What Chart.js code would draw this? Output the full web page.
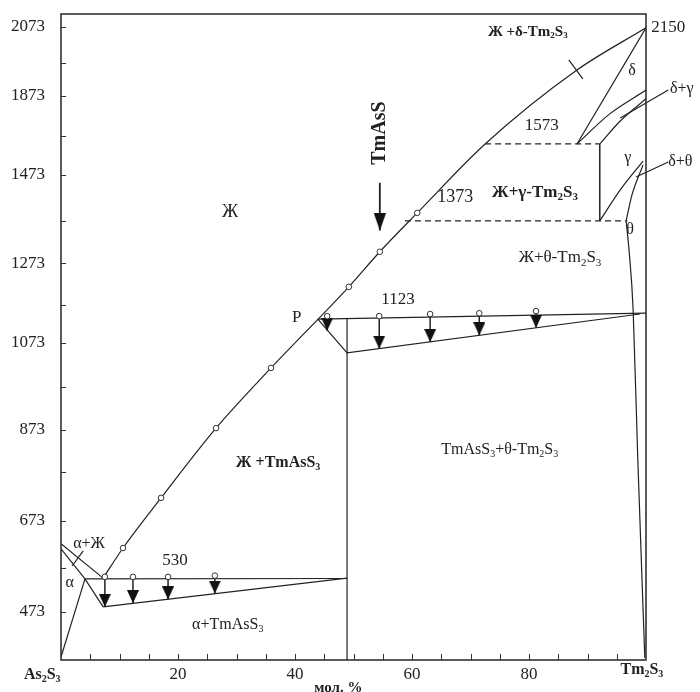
<!DOCTYPE html>
<html>
<head>
<meta charset="utf-8">
<script src="https://cdn.jsdelivr.net/npm/chart.js@4.4.0/dist/chart.umd.min.js"></script>
<style>
  html, body { margin: 0; padding: 0; background: #fff; }
  canvas { display: block; }
</style>
</head>
<body>
<canvas id="myChart" width="700" height="692"></canvas>
<script>
// ejes: x = mol. % Tm2S3, y = temperatura (escala nominal del dibujo, las marcas
// del original no estan igualmente espaciadas)
const xTickValues = [20, 40, 60, 80];
const xTickLabels = ["20", "40", "60", "80"];
const xTickMarks = [5, 10, 15, 20, 25, 30, 35, 40, 45, 50, 55, 60, 65, 70, 75, 80, 85, 90, 95];
const yTickValues = [473, 691, 909, 1117, 1308, 1519, 1708, 1873];
const yTickLabels = ["473", "673", "873", "1073", "1273", "1473", "1873", "2073"];
const yMinorMarks = [578, 808, 1011, 1208, 1409, 1612, 1787];

// lineas del diagrama [x, y]
const liquidus = [[7.2, 554], [10.6, 626], [17.1, 746], [26.5, 913], [35.9, 1057], [49.2, 1251], [54.5, 1335], [60.9, 1428], [72.5, 1593], [88.2, 1770], [100, 1871]];
const liquidusDots = [[10.6, 626], [17.1, 746], [26.5, 913], [35.9, 1057], [49.2, 1251], [54.5, 1335], [60.9, 1428]];
const peritecticLine = [[43.9, 1174], [100, 1188]];
const peritecticLower = [[43.9, 1174], [48.9, 1093], [99.0, 1186]];
const compoundLine = [[48.9, 1175], [48.9, 358]];
const eutecticLine = [[4.1, 552], [48.9, 553]];
const eutecticLower = [[7.2, 485], [48.9, 554]];
const alphaSolvus = [[0, 365], [4.1, 552]];
const alphaSolidus = [[0, 624], [4.1, 552], [7.2, 485]];
const alphaLiquidus = [[0, 636], [7.2, 554]];
const deltaLine = [[100, 1871], [88.2, 1593]];
const iso1573 = [[72.5, 1593], [92.1, 1593]];
const gammaEdge = [[92.1, 1593], [92.1, 1409]];
const iso1373 = [[58.8, 1409], [96.8, 1409]];
const deltaGamma1 = [[88.2, 1593], [93.8, 1665], [100, 1722]];
const deltaGamma2 = [[92.1, 1593], [95.6, 1648], [100, 1701]];
const gammaTheta1 = [[92.1, 1409], [95.6, 1483], [99.5, 1552]];
const gammaTheta2 = [[96.6, 1409], [97.6, 1471], [99.5, 1543]];
const thetaLine = [[96.6, 1409], [97.1, 1339], [97.8, 1196], [98.6, 837], [99.8, 363]];
const leaderDG = [[95.6, 1655], [103.8, 1722]];
const leaderDT = [[98.3, 1514], [103.8, 1550]];
const leaderAL = [[3.8, 619], [1.9, 583]];
const xMark = [[86.8, 1794], [89.2, 1749]];
const tmAsSArrow = [[54.5, 1500], [54.5, 1386]];

// efectos termicos (flechas)
const arrowX1123 = [45.5, 54.4, 63.1, 71.5, 81.2];
const arrowTop1123 = [1181, 1181, 1186, 1188, 1193];
const arrowTip1123 = [1146, 1103, 1119, 1135, 1153];
const arrowX530 = [7.5, 12.3, 18.3, 26.3];
const arrowTop530 = [557, 557, 557, 560];
const arrowTip530 = [485, 494, 503, 517];

// textos del diagrama
const notes = [
  { t: "Ж", x: 28.9, y: 1430, size: 18 },
  { t: "Ж +δ-Tm_2S_3", x: 79.8, y: 1861, size: 15, bold: true },
  { t: "2150", x: 100.9, y: 1871, size: 17, align: "left" },
  { t: "δ", x: 97.6, y: 1768, size: 16 },
  { t: "δ+γ", x: 104.1, y: 1725, size: 16, align: "left" },
  { t: "1573", x: 82.2, y: 1638, size: 17 },
  { t: "γ", x: 96.9, y: 1559, size: 16 },
  { t: "δ+θ", x: 103.8, y: 1550, size: 16, align: "left" },
  { t: "Ж+γ-Tm_2S_3", x: 81, y: 1476, size: 17, bold: true },
  { t: "1373", x: 67.4, y: 1466, size: 18 },
  { t: "θ", x: 97.3, y: 1387, size: 16 },
  { t: "Ж+θ-Tm_2S_3", x: 85.3, y: 1320, size: 17 },
  { t: "1123", x: 57.6, y: 1220, size: 17 },
  { t: "P", x: 40.3, y: 1177, size: 17 },
  { t: "Ж +TmAsS_3", x: 37.1, y: 830, size: 16, bold: true },
  { t: "TmAsS_3+θ-Tm_2S_3", x: 75, y: 861, size: 16 },
  { t: "530", x: 19.5, y: 597, size: 17 },
  { t: "α+Ж", x: 4.8, y: 636, size: 16 },
  { t: "α", x: 1.5, y: 542, size: 16 },
  { t: "α+TmAsS_3", x: 28.5, y: 442, size: 16 },
];

const FONT = '"Liberation Serif", "Times New Roman", serif';
const INK = "#222";

function pts(arr) {
  return arr.map((p) => ({ x: p[0], y: p[1] }));
}

function lineDs(arr, extra) {
  return Object.assign(
    {
      data: pts(arr),
      showLine: true,
      pointRadius: 0,
      borderColor: INK,
      borderWidth: 1.2,
      fill: false,
      order: 3,
    },
    extra || {}
  );
}

const curve = { cubicInterpolationMode: "monotone" };

function makeHead(w, h) {
  const c = document.createElement("canvas");
  c.width = w;
  c.height = h * 2;
  const g = c.getContext("2d");
  g.fillStyle = "#111";
  g.beginPath();
  g.moveTo(0, 0);
  g.lineTo(w, 0);
  g.lineTo(w / 2, h);
  g.closePath();
  g.fill();
  return c;
}
const smallHead = makeHead(12, 13);
const bigHead = makeHead(12, 17);

// texto con subindices: "Tm_2S_3"
function drawRich(ctx, str, x, y, size, bold, align) {
  const w = bold ? "bold " : "";
  const main = w + size + "px " + FONT;
  const small = w + Math.round(size * 0.62) + "px " + FONT;
  const parts = [];
  str.split(/(_\w)/).forEach((s) => {
    if (!s) return;
    if (s[0] === "_") parts.push({ t: s.slice(1), sub: true });
    else parts.push({ t: s, sub: false });
  });
  let total = 0;
  parts.forEach((p) => {
    ctx.font = p.sub ? small : main;
    p.w = ctx.measureText(p.t).width;
    total += p.w;
  });
  let cx = align === "left" ? x : x - total / 2;
  ctx.textBaseline = "middle";
  ctx.textAlign = "left";
  parts.forEach((p) => {
    ctx.font = p.sub ? small : main;
    ctx.fillText(p.t, cx, p.sub ? y + size * 0.28 : y);
    cx += p.w;
  });
}

const diagramExtras = {
  id: "diagramExtras",
  beforeDatasetsDraw(chart) {
    const { ctx, chartArea: a } = chart;
    const x = chart.scales.x;
    const y = chart.scales.y;
    ctx.save();
    ctx.strokeStyle = "#333";
    ctx.lineWidth = 1;
    ctx.beginPath();
    xTickMarks.forEach((v) => {
      const px = Math.round(x.getPixelForValue(v)) + 0.5;
      ctx.moveTo(px, a.bottom);
      ctx.lineTo(px, a.bottom - 6);
    });
    yTickValues.concat(yMinorMarks).forEach((v) => {
      const py = Math.round(y.getPixelForValue(v)) + 0.5;
      ctx.moveTo(a.left, py);
      ctx.lineTo(a.left + 5, py);
    });
    ctx.stroke();
    ctx.lineWidth = 1.6;
    ctx.strokeRect(a.left, a.top, a.right - a.left, a.bottom - a.top);
    ctx.restore();
  },
  afterDatasetsDraw(chart) {
    const { ctx, chartArea: a } = chart;
    const x = chart.scales.x;
    const y = chart.scales.y;
    ctx.save();
    ctx.fillStyle = INK;
    notes.forEach((n) => {
      drawRich(ctx, n.t, x.getPixelForValue(n.x), y.getPixelForValue(n.y), n.size, n.bold, n.align);
    });
    // nombres de los componentes y del eje
    drawRich(ctx, "As_2S_3", x.getPixelForValue(-3.2), a.bottom + 15, 16, true);
    drawRich(ctx, "Tm_2S_3", x.getPixelForValue(99.3), a.bottom + 10, 16, true);
    drawRich(ctx, "мол. %", x.getPixelForValue(47.4), a.bottom + 28, 15, true);
    // TmAsS vertical sobre la flecha
    ctx.translate(x.getPixelForValue(54.5), y.getPixelForValue(1619));
    ctx.rotate(-Math.PI / 2);
    drawRich(ctx, "TmAsS", 0, 0, 20, true);
    ctx.restore();
  },
};

const shafts = [];
arrowX1123.forEach((v, i) => shafts.push(lineDs([[v, arrowTop1123[i]], [v, arrowTip1123[i]]], { borderWidth: 1.5, order: 2 })));
arrowX530.forEach((v, i) => shafts.push(lineDs([[v, arrowTop530[i]], [v, arrowTip530[i]]], { borderWidth: 1.5, order: 2 })));

const tips = arrowX1123.map((v, i) => [v, arrowTip1123[i]]).concat(arrowX530.map((v, i) => [v, arrowTip530[i]]));
const tops = arrowX1123.map((v, i) => [v, arrowTop1123[i]]).concat(arrowX530.map((v, i) => [v, arrowTop530[i]]));

new Chart(document.getElementById("myChart"), {
  type: "scatter",
  data: {
    datasets: [
      lineDs(liquidus, curve),
      lineDs(peritecticLine),
      lineDs(peritecticLower),
      lineDs(compoundLine),
      lineDs(eutecticLine),
      lineDs(eutecticLower),
      lineDs(alphaSolvus),
      lineDs(alphaSolidus),
      lineDs(alphaLiquidus),
      lineDs(deltaLine),
      lineDs(iso1573, { borderDash: [6, 4] }),
      lineDs(gammaEdge, { borderWidth: 1.5 }),
      lineDs(iso1373, { borderDash: [6, 4] }),
      lineDs(deltaGamma1, curve),
      lineDs(deltaGamma2, curve),
      lineDs(gammaTheta1, curve),
      lineDs(gammaTheta2, curve),
      lineDs(thetaLine, curve),
      lineDs(leaderDG, { clip: false }),
      lineDs(leaderDT, { clip: false }),
      lineDs(leaderAL),
      lineDs(xMark),
      lineDs(tmAsSArrow, { borderWidth: 1.8, order: 2 }),
      ...shafts,
      {
        data: pts(tips),
        showLine: false,
        pointStyle: smallHead,
        pointRadius: 5,
        order: 1,
      },
      {
        data: pts([tmAsSArrow[1]]),
        showLine: false,
        pointStyle: bigHead,
        pointRadius: 5,
        order: 1,
      },
      {
        data: pts(liquidusDots.concat(tops)),
        showLine: false,
        pointStyle: "circle",
        pointRadius: 2.8,
        pointBackgroundColor: "#fff",
        pointBorderColor: "#333",
        pointBorderWidth: 1,
        order: 0,
      },
    ],
  },
  options: {
    responsive: false,
    animation: false,
    events: [],
    layout: { padding: { top: 14, right: 54, left: 0, bottom: 0 } },
    plugins: {
      legend: { display: false },
      tooltip: { enabled: false },
    },
    scales: {
      x: {
        type: "linear",
        min: 0,
        max: 100,
        grid: { display: false, drawTicks: false },
        border: { display: false },
        afterBuildTicks: (s) => {
          s.ticks = xTickValues.map((v) => ({ value: v }));
        },
        afterFit: (s) => {
          s.height = 32;
          s.paddingLeft = 0;
          s.paddingRight = 0;
        },
        ticks: {
          padding: 4,
          autoSkip: false,
          maxRotation: 0,
          color: INK,
          font: { family: FONT, size: 17 },
          callback: (v, i) => xTickLabels[i],
        },
      },
      y: {
        type: "linear",
        min: 358,
        max: 1904,
        grid: { display: false, drawTicks: false },
        border: { display: false },
        afterBuildTicks: (s) => {
          s.ticks = yTickValues.map((v) => ({ value: v }));
        },
        afterFit: (s) => {
          s.width = 61;
          s.paddingTop = 0;
          s.paddingBottom = 0;
        },
        ticks: {
          padding: 16,
          autoSkip: false,
          color: INK,
          font: { family: FONT, size: 17 },
          callback: (v, i) => yTickLabels[i],
        },
      },
    },
  },
  plugins: [diagramExtras],
});
</script>
</body>
</html>
